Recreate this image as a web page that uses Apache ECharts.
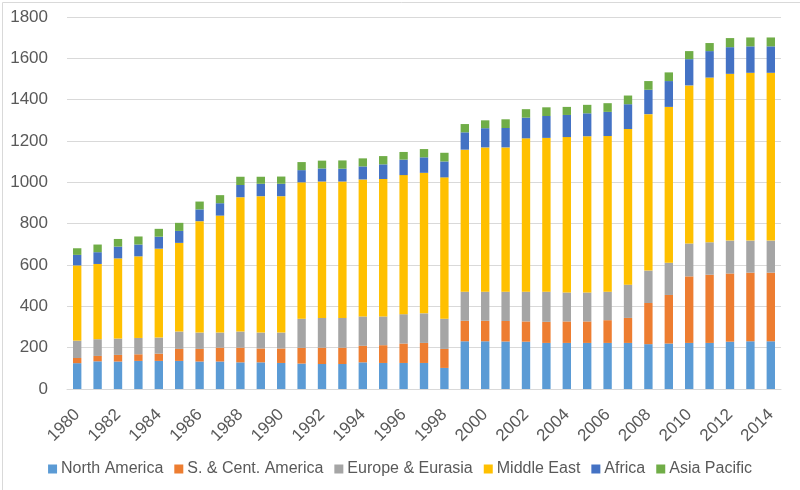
<!DOCTYPE html>
<html>
<head>
<meta charset="utf-8">
<script src="https://cdn.jsdelivr.net/npm/echarts@6/dist/echarts.min.js"></script>
<style>
html,body{margin:0;padding:0;background:#fff;}
#c{width:800px;height:490px;}
</style>
</head>
<body>
<div id="c"></div>
<script>
const years = [];
for (let y = 1980; y <= 2014; y++) years.push(String(y));

const northAmerica = [125,134,133,136,136,136,133,133,129,129,126,123,121,121,129,126,126,126,102,231,231,230,229,223,223,223,223,223,217,220,223,223,229,231,231];
const southCentAmerica = [25,26,32,32,35,58,61,67,71,67,70,76,79,79,80,86,94,97,92,99,99,99,98,102,104,104,110,121,199,235,322,330,330,332,332];
const europeEurasia = [84,81,79,79,78,84,79,73,78,77,77,141,144,144,142,139,142,143,146,141,141,142,144,146,140,140,138,161,157,156,159,157,159,155,155];
const middleEast = [364,364,388,395,430,429,539,566,650,660,660,660,660,660,663,665,673,680,684,687,698,698,742,744,752,756,753,753,757,754,765,797,807,812,812];
const africa = [51,57,57,57,58,58,57,60,59,60,60,59,63,62,63,71,75,75,77,84,93,94,100,106,107,111,117,120,118,125,127,128,129,128,128];
const asiaPacific = [32,37,37,39,38,39,38,39,40,34,35,39,38,40,39,40,37,40,42,40,38,42,41,42,39,41,42,42,42,42,39,39,44,43,43];

const seriesNames = ['North America','S. & Cent. America','Europe & Eurasia','Middle East','Africa','Asia Pacific'];
const seriesData = [northAmerica, southCentAmerica, europeEurasia, middleEast, africa, asiaPacific];
const colors = ['#5B9BD5','#ED7D31','#A5A5A5','#FFC000','#4472C4','#70AD47'];

const chart = echarts.init(document.getElementById('c'));
chart.setOption({
  animation: false,
  color: colors,
  textStyle: { fontFamily: 'Liberation Sans, Arial, sans-serif' },
  graphic: [{
    type: 'rect', left: 0, top: 0,
    shape: { x: 0.5, y: 0.5, width: 799, height: 489 },
    style: { fill: 'none', stroke: '#D9D9D9', lineWidth: 1 },
    silent: true
  }],
  grid: { left: 67, right: 19, top: 17, bottom: 101, containLabel: false },
  legend: {
    bottom: 8,
    left: 'center',
    icon: 'rect',
    itemWidth: 9,
    itemHeight: 9,
    itemGap: 11,
    textStyle: { fontSize: 16, color: '#595959', padding: [0, 0, 0, -1] },
    data: seriesNames
  },
  xAxis: {
    type: 'category',
    data: years,
    axisTick: { show: false },
    axisLine: { lineStyle: { color: '#D9D9D9' } },
    axisLabel: { interval: 1, rotate: 45, fontSize: 17, color: '#595959', margin: 23 }
  },
  yAxis: {
    type: 'value',
    min: 0, max: 1800, interval: 200,
    axisLine: { show: false },
    axisTick: { show: false },
    splitLine: { lineStyle: { color: '#D9D9D9' } },
    axisLabel: { fontSize: 17, color: '#595959', margin: 19, formatter: v => String(v) }
  },
  series: seriesNames.map((n, i) => ({
    name: n,
    type: 'bar',
    stack: 'total',
    barWidth: '41%',
    data: seriesData[i]
  }))
});
</script>
</body>
</html>
